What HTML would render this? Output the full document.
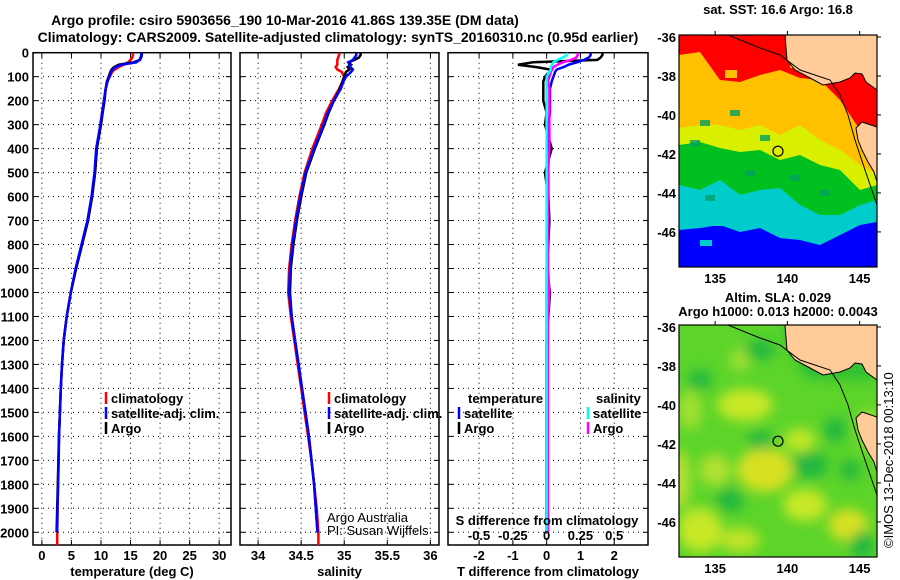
<!DOCTYPE html>
<html><head><meta charset="utf-8"><style>
body{margin:0;background:#fff;}
svg{display:block;font-family:"Liberation Sans",Arial,sans-serif;}
.b{font-weight:bold;font-size:13px;}
</style></head><body>
<svg id="s" width="900" height="580" viewBox="0 0 900 580" xmlns="http://www.w3.org/2000/svg">
<text x="285" y="25" text-anchor="middle" font-size="14" font-weight="bold">Argo profile: csiro 5903656_190 10-Mar-2016 41.86S 139.35E (DM data)</text>
<text x="338" y="42" text-anchor="middle" font-size="14" font-weight="bold">Climatology: CARS2009. Satellite-adjusted climatology: synTS_20160310.nc (0.95d earlier)</text>
<g id="plots"></g>
<g id="maps"></g>
<text x="778" y="14" text-anchor="middle" class="b" font-size="12">sat. SST: 16.6 Argo: 16.8</text>
<text x="778" y="302" text-anchor="middle" class="b">Altim. SLA: 0.029</text>
<text x="778" y="316" text-anchor="middle" class="b">Argo h1000: 0.013 h2000: 0.0043</text>
<text transform="translate(893,548) rotate(-90)" font-size="13">©IMOS 13-Dec-2018 00:13:10</text>
<text x="327" y="522" font-size="13">Argo Australia</text>
<text x="327" y="535" font-size="13">PI: Susan Wijffels</text>
</svg>
<script>
const depths=[0,10,20,30,40,50,60,70,80,100,120,150,200,250,300,400,500,600,700,800,900,1000,1100,1200,1300,1400,1500,1600,1700,1800,1900,2000];
const climDepths=[0,10,20,30,40,50,60,70,80,100,120,150,200,250,300,400,500,600,700,800,900,1000,1100,1200,1300,1400,1500,1600,1700,1800,1900,2000,2053];
const tArgo=[16.9,16.9,16.8,16.6,15.5,13,12.2,11.8,11.6,11.3,11.0,10.8,10.6,10.3,10.0,9.3,9.0,8.5,7.8,6.8,5.8,4.9,4.2,3.7,3.4,3.2,3.05,2.9,2.8,2.7,2.6,2.5];
const tClim=[15.4,15.4,15.3,15.0,14.6,13.8,13.0,12.3,11.9,11.5,11.1,10.8,10.5,10.2,9.9,9.3,9.0,8.5,7.8,6.8,5.8,4.9,4.2,3.7,3.4,3.2,3.05,2.9,2.8,2.75,2.65,2.6,2.6];
const tSat=[16.8,16.8,16.7,16.5,16.0,13.5,12.4,12.0,11.7,11.4,11.1,10.8,10.5,10.2,9.9,9.2,8.9,8.4,7.7,6.7,5.7,4.9,4.2,3.7,3.4,3.2,3.05,2.9,2.85,2.75,2.65,2.6];
const sArgo=[35.19,35.19,35.17,35.12,35.05,35.08,35.04,35.06,35.02,35.0,34.98,34.95,34.88,34.82,34.77,34.66,34.56,34.5,34.45,34.41,34.38,34.37,34.39,34.43,34.47,34.51,34.55,34.59,34.62,34.65,34.67,34.69];
const sClim=[34.94,34.94,34.93,34.92,34.92,34.92,34.9,34.92,34.97,35.0,34.98,34.94,34.86,34.79,34.74,34.63,34.54,34.48,34.43,34.39,34.36,34.35,34.38,34.42,34.46,34.5,34.54,34.58,34.62,34.65,34.68,34.7,34.7];
const sSat=[35.14,35.14,35.12,35.1,35.05,35.06,35.07,35.1,35.08,35.02,34.99,34.96,34.88,34.81,34.76,34.65,34.55,34.49,34.44,34.4,34.37,34.36,34.39,34.43,34.47,34.51,34.55,34.59,34.62,34.65,34.67,34.69];
const dTArgo=[1.65,1.65,1.6,1.5,-0.4,-0.85,-0.3,0.1,0.1,-0.05,-0.1,-0.1,-0.1,0,-0.05,0.15,-0.05,0.05,0.08,0.05,0,0.1,0.05,0,0,0,0,0,0,0,0,0];
const dTSat=[1.3,1.3,1.25,1.1,0.9,0.65,0.5,0.3,0.25,0.2,0.15,0.1,0.1,0.1,0.05,0.05,0.05,0.05,0.05,0.05,0,0,0,0,0,0,0,0,0,0,0,0];
const dSArgo=[0.23,0.23,0.22,0.18,0.12,0.08,0.05,0.04,0.03,0.02,0.01,0.02,0.02,0.02,0.02,0.02,0.01,0.01,0.01,0.01,0.01,0.02,0.01,0.01,0.01,0.01,0.01,0.01,0.01,0.01,0.01,0.01];
const dSSat=[0.15,0.15,0.12,0.08,0.05,0.04,0.03,0.03,0.02,0,0,0,0,0,0,0,0,0,0,0,0,0,0,0,0,0,0,0,0,0,0,0];
const depthTicks=[0,100,200,300,400,500,600,700,800,900,1000,1100,1200,1300,1400,1500,1600,1700,1800,1900,2000];
const tTicks=[0,5,10,15,20,25,30];
const sTicks=[34,34.5,35,35.5,36];
const sTickLabels=["34","34.5","35","35.5","36"];
const dTTicks=[-2,-1,0,1,2];
const dSTicks=[-0.5,-0.25,0,0.25,0.5];
const dSTickLabels=["-0.5","-0.25","0","0.25","0.5"];

const NS="http://www.w3.org/2000/svg";
const plots=document.getElementById('plots');
function mk(tag,attrs,parent){const e=document.createElementNS(NS,tag);for(const k in attrs)e.setAttribute(k,attrs[k]);(parent||plots).appendChild(e);return e;}
const Y0=52.7,Y1=545,DMAX=2053;
function yS(d){return Y0+(d/DMAX)*(Y1-Y0);}
function panel(name,x0,x1,xmin,xmax,xt,xl,showDepth,xlabel){
  const xs=v=>x0+(v-xmin)/(xmax-xmin)*(x1-x0);
  const g=mk('g',{});
  
  
  depthTicks.forEach(d=>{const y=yS(d);
    mk('line',{x1:x0,x2:x1,y1:y,y2:y,stroke:'#000','stroke-width':1,'stroke-dasharray':'1,4'},g);
    mk('line',{x1:x0,x2:x0+5,y1:y,y2:y,stroke:'#000'},g);
    mk('line',{x1:x1-5,x2:x1,y1:y,y2:y,stroke:'#000'},g);
    if(showDepth){const t=mk('text',{x:29,y:y+5,'text-anchor':'end',class:'b'},g);t.textContent=d;
      
      }
  });
  xt.forEach((v,i)=>{const x=xs(v);
    mk('line',{x1:x,x2:x,y1:Y0,y2:Y1,stroke:'#000','stroke-dasharray':'1,4'},g);
    mk('line',{x1:x,x2:x,y1:Y1-5,y2:Y1,stroke:'#000'},g);
    mk('line',{x1:x,x2:x,y1:Y0,y2:Y0+5,stroke:'#000'},g);
    const t=mk('text',{x:x,y:560,'text-anchor':'middle',class:'b'},g);t.textContent=xl[i];
    
    
  });
  mk('rect',{x:x0,y:Y0,width:x1-x0,height:Y1-Y0,fill:'none',stroke:'#000','stroke-width':1.5},g);
  const t=mk('text',{x:(x0+x1)/2,y:576,'text-anchor':'middle',class:'b'},g);t.textContent=xlabel;
  
  
  return {g,xs};
}
function line(p,vals,ds,color,name,scale){
  const pts=vals.map((v,i)=>p.xs(v*(scale||1)).toFixed(1)+','+yS(ds[i]).toFixed(1)).join(' ');
  const l=mk('polyline',{points:pts,fill:'none',stroke:color,'stroke-width':2.5,'stroke-linejoin':'miter'},p.g);
  
  
}
function legend(g,x,y,color,label,name){
  mk('line',{x1:x,x2:x,y1:y-11,y2:y+1,stroke:color,'stroke-width':2.5},g);
  const t=mk('text',{x:x+5,y:y,class:'b'},g);t.textContent=label;
  
  
}
const p1=panel('temperature-panel',33,231,-1.5,32,tTicks,tTicks.map(String),true,'temperature (deg C)');
line(p1,tClim,climDepths,'#f00','temp-climatology-line');
line(p1,tArgo,depths,'#000','temp-argo-line');
line(p1,tSat,depths,'#00f','temp-satellite-line');
legend(p1.g,106,403,'#f00','climatology','legend-climatology');
legend(p1.g,106,418,'#00f','satellite-adj. clim.','legend-satellite');
legend(p1.g,106,433,'#000','Argo','legend-argo');

const p2=panel('salinity-panel',240,439,33.79,36.1,sTicks,sTickLabels,false,'salinity');
line(p2,sClim,climDepths,'#f00','sal-climatology-line');
line(p2,sArgo,depths,'#000','sal-argo-line');
line(p2,sSat,depths,'#00f','sal-satellite-line');
legend(p2.g,329,403,'#f00','climatology','legend-climatology-sal');
legend(p2.g,329,418,'#00f','satellite-adj. clim.','legend-satellite-sal');
legend(p2.g,329,433,'#000','Argo','legend-argo-sal');

const p3=panel('difference-panel',448,648,-2.92,3.0,dTTicks,dTTicks.map(String),false,'T difference from climatology');
line(p3,dTArgo,depths,'#000','tdiff-argo-line');
line(p3,dTSat,depths,'#00f','tdiff-satellite-line');
line(p3,dSArgo,depths,'#f0f','sdiff-argo-line',4);
line(p3,dSSat,depths,'#0ff','sdiff-satellite-line',4);
let t=mk('text',{x:468,y:403,class:'b'},p3.g);t.textContent='temperature';
t=mk('text',{x:596,y:403,class:'b'},p3.g);t.textContent='salinity';
legend(p3.g,459,418,'#00f','satellite','legend-t-satellite');
legend(p3.g,459,433,'#000','Argo','legend-t-argo');
legend(p3.g,588,418,'#0ff','satellite','legend-s-satellite');
legend(p3.g,588,433,'#f0f','Argo','legend-s-argo');
t=mk('text',{x:547,y:525,'text-anchor':'middle',class:'b'},p3.g);t.textContent='S difference from climatology';


dSTicks.forEach((v,i)=>{const tt=mk('text',{x:p3.xs(v*4),y:540,'text-anchor':'middle',class:'b'},p3.g);tt.textContent=dSTickLabels[i];
  
  });

// maps
const maps=document.getElementById('maps');
const MX0=679,MX1=877,lonMin=132.5,lonMax=146.2,latTop=-35.9,latBot=-47.8;
const bx=[679,700,720,740,760,780,800,820,840,860,877];
const bCB=[230,228,225,232,228,238,240,245,235,225,222];
const bGC=[185,190,180,195,190,188,205,215,215,205,200];
const bYG=[145,142,148,152,150,160,155,165,170,190,185];
const bOY=[128,125,125,130,125,135,125,140,150,165,175];
const bRO=[55,52,80,82,75,70,78,80,100,130,137];
function band(b,color,g){
  let pts=MX0+','+(35)+' '+MX1+','+35+' ';
  for(let i=bx.length-1;i>=0;i--)pts+=bx[i]+','+b[i]+' ';
  mk('polygon',{points:pts,fill:color},g);
}
const land1='785,35 787,60 795,70 810,78 823,85 840,82 850,78 855,73 862,74 866,82 877,90 877,35';
const land2='877,127 862,122 856,128 858,140 862,150 868,162 874,172 877,182';
const shelf='728,35 760,48 780,55 800,70 830,80 840,95 848,115 855,140 865,170 877,205';
function mapFrame(g,y0,y1){
  const latS=la=>y0+(latTop-la)/(latTop-latBot)*(y1-y0);
  const lonS=lo=>MX0+(lo-lonMin)/(lonMax-lonMin)*(MX1-MX0);
  mk('rect',{x:MX0,y:y0,width:MX1-MX0,height:y1-y0,fill:'none',stroke:'#000','stroke-width':1.2},g);
  [-36,-38,-40,-42,-44,-46].forEach(la=>{const y=latS(la);
    mk('line',{x1:MX1,x2:MX1+4,y1:y,y2:y,stroke:'#000'},g);
    const tt=mk('text',{x:676,y:y+5,'text-anchor':'end',class:'b'},g);tt.textContent=la;
    
    });
  [135,140,145].forEach(lo=>{const x=lonS(lo);
    mk('line',{x1:x,x2:x,y1:y0-4,y2:y0,stroke:'#000'},g);
    const tt=mk('text',{x:x,y:y1+16,'text-anchor':'middle',class:'b'},g);tt.textContent=lo;
    
    });
  mk('circle',{cx:lonS(139.35),cy:latS(-41.86),r:5,fill:'none',stroke:'#000','stroke-width':1.2},g);
}
const g1=mk('g',{},maps);


mk('rect',{x:MX0,y:35,width:MX1-MX0,height:232,fill:'#0000ff'},g1);
band(bCB,'#00cccc',g1);band(bGC,'#00c020',g1);band(bYG,'#d8f000',g1);band(bOY,'#ffc000',g1);band(bRO,'#ff0000',g1);
[[700,120],[730,110],[760,135],[690,140],[745,170],[790,175],[705,195],[820,190]].forEach(p=>mk('rect',{x:p[0],y:p[1],width:10,height:6,fill:'#00a060',opacity:0.8},g1));
[[715,220],[760,215],[800,230],[835,220],[700,240]].forEach(p=>mk('rect',{x:p[0],y:p[1],width:12,height:6,fill:'#00cccc'},g1));
[[725,70],[760,75],[790,60],[740,90]].forEach(p=>mk('rect',{x:p[0],y:p[1],width:12,height:8,fill:'#ffc000'},g1));
mk('polygon',{points:land1,fill:'#ffcc99',stroke:'#000','stroke-width':1},g1);
mk('polygon',{points:land2,fill:'#ffcc99',stroke:'#000','stroke-width':1},g1);
mk('polyline',{points:shelf,fill:'none',stroke:'#000','stroke-width':1},g1);
mapFrame(g1,35,267);

const g2=mk('g',{},maps);


const f=mk('filter',{id:'bl',x:'-50%',y:'-50%',width:'200%',height:'200%'},g2);mk('feGaussianBlur',{stdDeviation:6},f);
const cp=mk('clipPath',{id:'cp2'},g2);mk('rect',{x:MX0,y:325,width:MX1-MX0,height:232},cp);
const gg=mk('g',{'clip-path':'url(#cp2)'},g2);
mk('rect',{x:MX0,y:325,width:MX1-MX0,height:232,fill:'#5cd42a'},gg);
const gb=mk('g',{filter:'url(#bl)'},gg);
[[745,405,28,16,'#c8e828'],[765,470,28,22,'#d8e020'],[800,440,16,12,'#c0e828'],[805,505,22,16,'#c8e828'],[848,525,20,16,'#d8e020'],[700,530,22,22,'#c8e828'],[715,470,16,16,'#b0e030'],[690,410,12,20,'#a0e030'],[740,360,10,12,'#a0e030'],[680,480,10,30,'#b8e030'],[870,430,12,20,'#a0e030'],[820,345,16,10,'#90dc30'],[740,540,20,12,'#c0e428']].forEach(e=>mk('ellipse',{cx:e[0],cy:e[1],rx:e[2],ry:e[3],fill:e[4]},gb));
[[760,350,15,10],[815,365,14,12],[810,465,18,14],[730,500,14,12],[862,545,12,14],[835,430,12,12],[700,380,12,10],[760,440,12,10],[850,470,10,10]].forEach(e=>mk('ellipse',{cx:e[0],cy:e[1],rx:e[2],ry:e[3],fill:'#20b840'},gb));
mk('polygon',{points:'780,325 795,360 830,380 877,380 877,325',fill:'#30c030',filter:'url(#bl)'},gg);
mk('polygon',{points:land1,fill:'#ffcc99',stroke:'#000','stroke-width':1,transform:'translate(0,290)'},gg);
mk('polygon',{points:land2,fill:'#ffcc99',stroke:'#000','stroke-width':1,transform:'translate(0,290)'},gg);
mk('polyline',{points:shelf,fill:'none',stroke:'#000','stroke-width':1,transform:'translate(0,290)'},gg);
mapFrame(g2,325,557);
</script>
</body></html>
